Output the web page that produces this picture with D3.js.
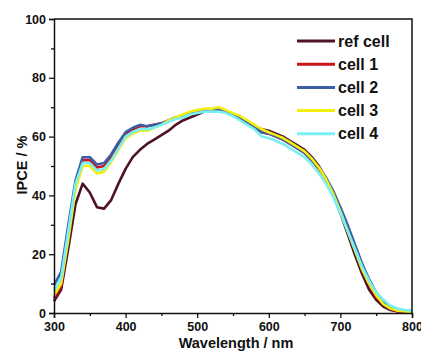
<!DOCTYPE html>
<html>
<head>
<meta charset="utf-8">
<script src="https://cdn.jsdelivr.net/npm/d3@7"></script>
<style>
  body { margin: 0; background: #fff; }
  text { font-family: "Liberation Sans", Arial, sans-serif; font-weight: bold; fill: #111; }
</style>
</head>
<body>
<div id="chart"></div>
<script>
var svgWidth = 421;
var svgHeight = 353;

var margin = { top: 19, right: 9, bottom: 40, left: 54 };
var width = svgWidth - margin.left - margin.right;
var height = svgHeight - margin.top - margin.bottom;

// wavelengths, 300..800 nm every 10 nm
var wavelength = [300,310,320,330,340,350,360,370,380,390,400,410,420,430,440,450,460,470,480,490,
  500,510,520,530,540,550,560,570,580,590,600,610,620,630,640,650,660,670,680,690,
  700,710,720,730,740,750,760,770,780,790,800];

var refCell = [4,8,22,37,44,41,36,35.5,38.5,44,49,53,55.5,57.5,59,60.5,62,64,65.5,66.5,
  67.5,68.5,69,69,68.5,67.5,66,64.5,63.5,62.5,62,61,60,58.5,57,55.5,53,50,45.5,40,
  34,27,20,13.5,8,4.5,2.2,1,0.5,0.3,0.2];
var cell1 = [5,9,27,43,52,52,49.5,50,53,57,61,62.5,63.5,63.5,64,64.5,65.5,66.5,67,68,
  68.5,69,69,69,68.5,67.5,66,64.5,63,61.5,61,60,59,57.5,56,54.5,52,49,45.5,41,
  35,28.5,22,15.5,10,5.5,3,1.5,0.6,0.3,0.2];
var cell2 = [9.5,14,30,45,53,53,50.5,51,54,58,61.5,63,64,63.5,64,64.5,65.5,66.5,67,68,
  68.5,69,69,69.5,68.5,67.5,66.5,65,63.5,61.5,61,60,59,57.5,56,54.5,52,49.5,46,41.5,
  36,30,23.5,17,11.5,7,4,2,1,0.5,0.3];
var cell3 = [6,10,25,42,50,50,47.5,48,51.5,55.5,59.5,61,62,62,63,64,65.5,66.5,67.5,68.5,
  69,69.5,69.5,70,69,68,67,65.5,64,62.5,61.5,60.5,59.5,58,56.5,55,52.5,49.5,45.5,40.5,
  34.5,28,21.5,15,10,6,3,1.5,0.8,0.5,0.3];
var cell4 = [7.5,12,28,44,51,51,48.5,49,52,56,60,61.5,62.5,62.5,63,64,65,66,66.5,67.5,
  68,68.5,68.5,68.5,68,67,65.5,64,62.5,60,59.5,58.5,57.5,56,54.5,53,50.5,47.5,44,39.5,
  34,28,22,16,11,7,4.5,2.5,1.5,1,0.8];

var seriesNames = ["ref cell", "cell 1", "cell 2", "cell 3", "cell 4"];
var seriesValues = [refCell, cell1, cell2, cell3, cell4];
var seriesColors = ["#4f1225", "#c8141a", "#3b5ea6", "#f2ee10", "#78f0f4"];

var xTicks = [300, 400, 500, 600, 700, 800];
var xMinor = [350, 450, 550, 650, 750];
var yTicks = [0, 20, 40, 60, 80, 100];
var yMinor = [10, 30, 50, 70, 90];

var svg = d3.select("#chart")
  .append("svg")
  .attr("width", svgWidth)
  .attr("height", svgHeight);

var chartGroup = svg.append("g")
  .attr("transform", `translate(${margin.left}, ${margin.top})`);

var xScale = d3.scaleLinear().domain([300, 800]).range([0, width]);
var yScale = d3.scaleLinear().domain([0, 100]).range([height, 0]);

// lines
var line = d3.line()
  .x((d, i) => xScale(wavelength[i]))
  .y(d => yScale(d));

var drawOrder = [0, 1, 2, 3, 4];
drawOrder.forEach(function(k) {
  chartGroup.append("path")
    .datum(seriesValues[k])
    .attr("fill", "none")
    .attr("stroke", seriesColors[k])
    .attr("stroke-width", 2.6)
    .attr("stroke-linejoin", "round")
    .attr("d", line);
});

// frame top + right
chartGroup.append("path")
  .attr("d", `M0,0H${width}V${height}`)
  .attr("fill", "none")
  .attr("stroke", "#111")
  .attr("stroke-width", 1.5);

// axes
var bottomAxis = d3.axisBottom(xScale).tickValues(xTicks).tickSize(5).tickPadding(4);
var leftAxis = d3.axisLeft(yScale).tickValues(yTicks).tickSize(5).tickPadding(3);

var xg = chartGroup.append("g")
  .attr("transform", `translate(0, ${height})`)
  .call(bottomAxis);
xg.selectAll(".tick").filter(d => xMinor.indexOf(d) >= 0);
chartGroup.append("g")
  .attr("transform", `translate(0, ${height})`)
  .call(d3.axisBottom(xScale).tickValues(xMinor).tickSize(3).tickFormat(""))
  .select(".domain").remove();

var yg = chartGroup.append("g").call(leftAxis);
chartGroup.append("g")
  .call(d3.axisLeft(yScale).tickValues(yMinor).tickSize(3).tickFormat(""))
  .select(".domain").remove();

chartGroup.selectAll(".domain").attr("stroke", "#111").attr("stroke-width", 1.5);
chartGroup.selectAll(".tick line").attr("stroke", "#111").attr("stroke-width", 1.3);
chartGroup.selectAll(".tick text").style("font-size", "12.5px").style("font-weight", "bold")
  .style("font-family", "'Liberation Sans', Arial, sans-serif").attr("fill", "#111");

// axis titles
chartGroup.append("text")
  .attr("transform", "rotate(-90)")
  .attr("x", -146)
  .attr("y", -27)
  .style("text-anchor", "middle")
  .style("font-size", "14.5px")
  .text("IPCE / %");

chartGroup.append("text")
  .attr("x", 182)
  .attr("y", height + 35)
  .style("text-anchor", "middle")
  .style("font-size", "14.5px")
  .text("Wavelength / nm");

// legend
var legend = chartGroup.append("g")
  .attr("transform", "translate(243, 22)");

seriesNames.forEach(function(name, i) {
  var row = legend.append("g").attr("transform", `translate(0, ${i * 23.2})`);
  row.append("line")
    .attr("x1", 0).attr("x2", 38)
    .attr("y1", 0).attr("y2", 0)
    .attr("stroke", seriesColors[i])
    .attr("stroke-width", 3);
  row.append("text")
    .attr("x", 41)
    .attr("y", 5.5)
    .style("font-size", "16px")
    .text(name);
});
</script>
</body>
</html>
